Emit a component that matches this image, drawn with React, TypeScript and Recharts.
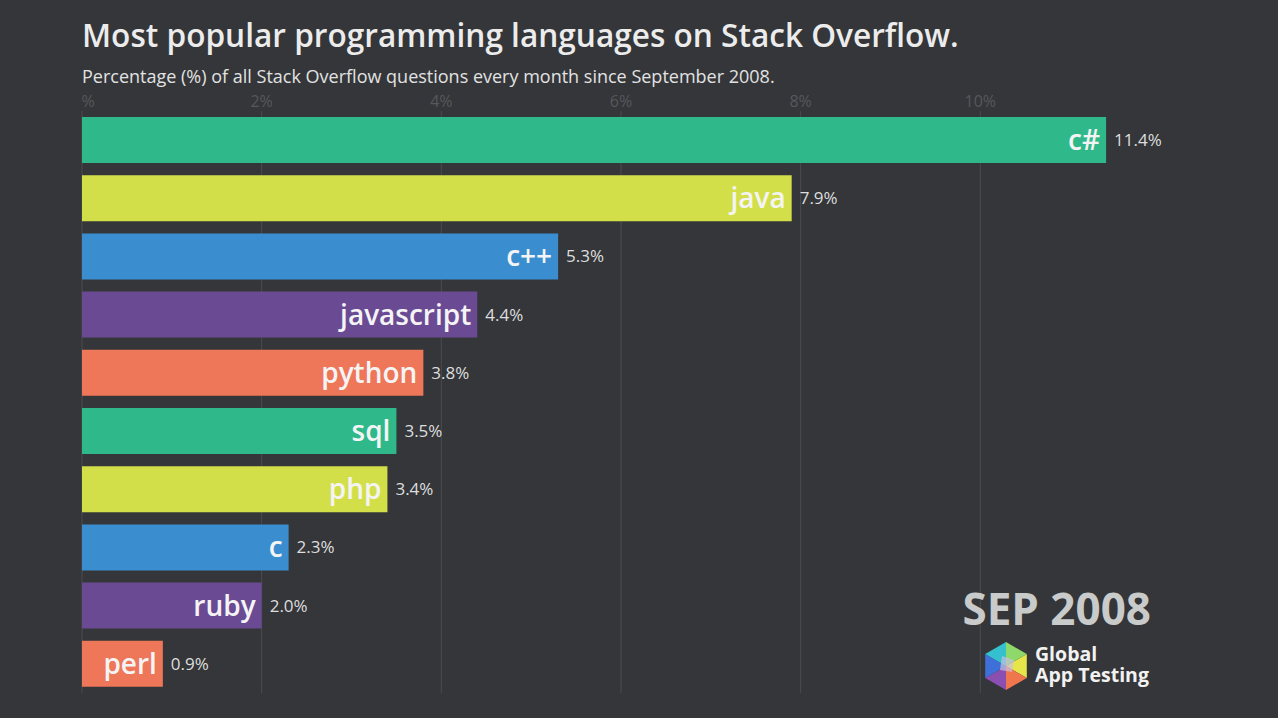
import { Bar, BarChart, CartesianGrid, Cell, LabelList, XAxis, YAxis } from "recharts";

const LANGUAGES = ["c#", "java", "c++", "javascript", "python", "sql", "php", "c", "ruby", "perl"];
const SHARE = [11.4, 7.9, 5.3, 4.4, 3.8, 3.5, 3.4, 2.3, 2.0, 0.9];
const TICKS = [0, 2, 4, 6, 8, 10];
const X_MAX = 12;

const BAR_COLORS = ["#2fb98a", "#d3df49", "#3a8ecf", "#6b4a94", "#ee7659"];
const BG = "#343639";
const FONT = "'Open Sans', sans-serif";

const data = LANGUAGES.map((name, i) => ({ name, share: SHARE[i] }));

function TopTick(props: any) {
  const { x, y, payload } = props;
  const label = payload.value === 0 ? "%" : `${payload.value}%`;
  return (
    <text
      x={payload.value === 0 ? x + 6 : x}
      y={y}
      dy={4}
      textAnchor="middle"
      fill="#56585c"
      fontSize={16}
      fontFamily={FONT}
    >
      {label}
    </text>
  );
}

// small multi-coloured hexagon + wordmark, bottom right
function Logo() {
  const cx = 28;
  const cy = 26;
  const r = 24;
  const pts = Array.from({ length: 6 }, (_, i) => {
    const a = (Math.PI / 3) * i - Math.PI / 6;
    return [cx + r * Math.cos(a), cy + r * Math.sin(a)];
  });
  const colors = ["#e6e64a", "#f0764e", "#8a4fb0", "#3f6fd8", "#35c0d0", "#8fd86a"];
  return (
    <svg width={180} height={52}>
      {pts.map((p, i) => {
        const q = pts[(i + 1) % 6];
        return (
          <polygon
            key={i}
            points={`${cx},${cy} ${p[0]},${p[1]} ${q[0]},${q[1]}`}
            fill={colors[i]}
          />
        );
      })}
      <polygon
        points={`${cx - 4},${cy - 10} ${cx + 8},${cy - 6} ${cx + 6},${cy + 6} ${cx - 6},${cy + 4}`}
        fill="#c9c0e0"
        opacity={0.7}
      />
      <text fill="#f2f2f2" fontSize={19.5} fontWeight={700} fontFamily={FONT}>
        <tspan x={57} y={21}>Global</tspan>
        <tspan x={57} y={42}>App Testing</tspan>
      </text>
    </svg>
  );
}

export default function App() {
  return (
    <div
      style={{
        position: "fixed",
        left: 0,
        top: 0,
        width: 1278,
        height: 718,
        background: BG,
        fontFamily: FONT,
        overflow: "hidden",
      }}
    >
      <div
        style={{
          position: "absolute",
          left: 82,
          top: 13,
          color: "#ececec",
          fontSize: 31.6,
          fontWeight: 600,
          whiteSpace: "nowrap",
        }}
      >
        Most popular programming languages on Stack Overflow.
      </div>
      <div
        style={{
          position: "absolute",
          left: 82,
          top: 64,
          color: "#e2e2e2",
          fontSize: 18,
          whiteSpace: "nowrap",
        }}
      >
        Percentage (%) of all Stack Overflow questions every month since September 2008.
      </div>

      <div style={{ position: "absolute", left: 0, top: 0 }}>
        <BarChart
          width={1278}
          height={718}
          data={data}
          layout="vertical"
          margin={{ top: 91, right: 118, bottom: 25, left: 82 }}
          barSize={46}
        >
          <CartesianGrid
            horizontal={false}
            stroke="#4a4c50"
            strokeWidth={1}
            verticalCoordinatesGenerator={(p: any) =>
              TICKS.map((t) => p.offset.left + (t / X_MAX) * p.offset.width)
            }
          />
          <XAxis
            type="number"
            orientation="top"
            domain={[0, X_MAX]}
            ticks={TICKS}
            height={20}
            axisLine={false}
            tickLine={false}
            tick={<TopTick />}
            interval={0}
          />
          <YAxis type="category" dataKey="name" hide width={0} />
          <Bar dataKey="share" isAnimationActive={false}>
            {data.map((_, i) => (
              <Cell key={i} fill={BAR_COLORS[i % BAR_COLORS.length]} />
            ))}
            <LabelList
              dataKey="name"
              position="insideRight"
              offset={6}
              fill="#f4f4f4"
              fontSize={28}
              fontWeight={600}
              fontFamily={FONT}
            />
            <LabelList
              dataKey="share"
              position="right"
              offset={8}
              fill="#dedede"
              fontSize={17}
              fontFamily={FONT}
              formatter={(v: any) => `${Number(v).toFixed(1)}%`}
            />
          </Bar>
        </BarChart>
      </div>

      <div
        style={{
          position: "absolute",
          right: 127,
          top: 578,
          color: "#c9caca",
          fontSize: 44,
          fontWeight: 700,
          whiteSpace: "nowrap",
        }}
      >
        SEP 2008
      </div>
      <div style={{ position: "absolute", left: 978, top: 640 }}>
        <Logo />
      </div>
    </div>
  );
}
